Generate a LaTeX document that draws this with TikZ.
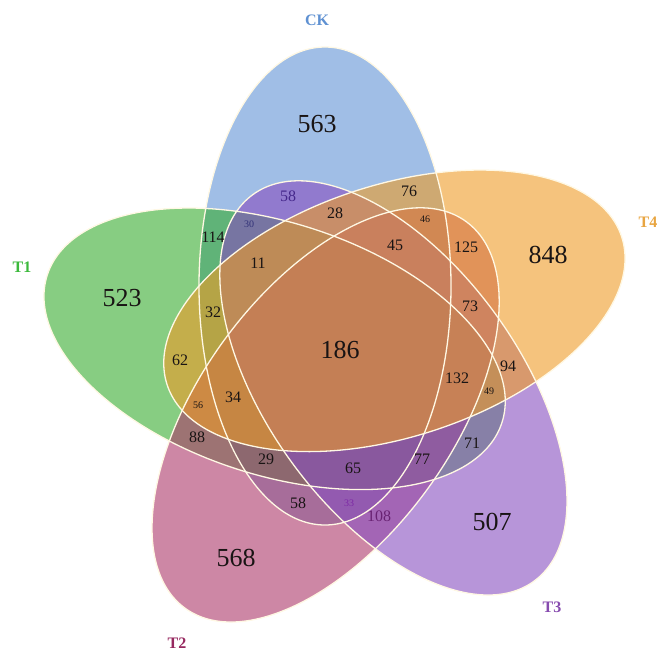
\documentclass[tikz,border=0pt]{standalone}
\usepackage{fontspec}
\setmainfont{Liberation Serif}
\definecolor{ckfill}{RGB}{97,147,213}
\definecolor{tonefill}{RGB}{55,172,47}
\definecolor{ttwofill}{RGB}{172,55,105}
\definecolor{tthreefill}{RGB}{135,78,192}
\definecolor{tfourfill}{RGB}{238,155,38}
\definecolor{rimwhite}{RGB}{255,248,228}
\definecolor{cktext}{RGB}{95,145,210}
\definecolor{tonetext}{RGB}{60,185,60}
\definecolor{ttwotext}{RGB}{150,40,95}
\definecolor{tthreetext}{RGB}{135,75,175}
\definecolor{tfourtext}{RGB}{232,165,65}
\definecolor{numdark}{RGB}{25,20,20}
\definecolor{numnavy}{RGB}{70,40,140}
\definecolor{numblue}{RGB}{50,50,120}
\definecolor{numviolet}{RGB}{125,40,165}
\definecolor{numplum}{RGB}{105,35,115}
\begin{document}
\begin{tikzpicture}[x=1pt, y=-1pt,
    setfill/.style={fill=#1, fill opacity=0.6},
    rim/.style={draw=rimwhite, line width=1.3pt},
    numbig/.style={font=\fontsize{26}{28}\selectfont, text=#1},
    numbig/.default=numdark,
    nummid/.style={font=\fontsize{16}{18}\selectfont, text=#1},
    nummid/.default=numdark,
    numsmall/.style={font=\fontsize{10}{11}\selectfont, text=#1},
    numsmall/.default=numdark,
    setname/.style={font=\bfseries\fontsize{16}{18}\selectfont, text=#1},
]
\useasboundingbox (0,0) rectangle (663,657);
\coordinate (cCK) at (325,286);
\coordinate (cT1) at (274.6,348.8);
\coordinate (cT2) at (325.6,414.9);
\coordinate (cT3) at (393.4,387.9);
\coordinate (cT4) at (394.4,310.8);

\fill[setfill=ckfill] (cCK) ellipse [x radius=126, y radius=239];
\fill[setfill=tonefill, rotate around={72:(cT1)}] (cT1) ellipse [x radius=126, y radius=239];
\fill[setfill=ttwofill, rotate around={144:(cT2)}] (cT2) ellipse [x radius=126, y radius=239];
\fill[setfill=tthreefill, rotate around={-144:(cT3)}] (cT3) ellipse [x radius=126, y radius=239];
\fill[setfill=tfourfill, rotate around={-72:(cT4)}] (cT4) ellipse [x radius=126, y radius=239];

\draw[rim] (cCK) ellipse [x radius=126, y radius=239];
\draw[rim, rotate around={72:(cT1)}] (cT1) ellipse [x radius=126, y radius=239];
\draw[rim, rotate around={144:(cT2)}] (cT2) ellipse [x radius=126, y radius=239];
\draw[rim, rotate around={-144:(cT3)}] (cT3) ellipse [x radius=126, y radius=239];
\draw[rim, rotate around={-72:(cT4)}] (cT4) ellipse [x radius=126, y radius=239];

% set names
\node[setname=cktext] (nCK) at (317,20) {CK};
\node[setname=tonetext] (nT1) at (22,267) {T1};
\node[setname=ttwotext] (nT2) at (177,643) {T2};
\node[setname=tthreetext] (nT3) at (552,607) {T3};
\node[setname=tfourtext] (nT4) at (648,222) {T4};

% counts
\node[numbig] (aCK) at (317,124) {563};
\node[numbig] (aT1) at (122,298) {523};
\node[numbig] (aT4) at (548,255) {848};
\node[numbig] (aT3) at (492,522) {507};
\node[numbig] (aT2) at (236,558) {568};
\node[numbig] (aAll) at (340,350) {186};

\node[nummid=numnavy] (r58a) at (288,196) {58};
\node[nummid] (r76) at (409,191) {76};
\node[nummid] (r114) at (213,237) {114};
\node[numsmall=numblue] (r30) at (249,224) {30};
\node[nummid] (r28) at (335,213) {28};
\node[numsmall] (r46) at (425,219) {46};
\node[nummid] (r125) at (466,247) {125};
\node[nummid] (r11) at (258,263) {11};
\node[nummid] (r45) at (395,245) {45};
\node[nummid] (r32) at (213,312) {32};
\node[nummid] (r73) at (470,306) {73};
\node[nummid] (r62) at (180,360) {62};
\node[nummid] (r132) at (457,378) {132};
\node[nummid] (r94) at (508,366) {94};
\node[numsmall] (r49) at (489,391) {49};
\node[numsmall] (r56) at (198,405) {56};
\node[nummid] (r34) at (233,397) {34};
\node[nummid] (r88) at (197,437) {88};
\node[nummid] (r29) at (266,459) {29};
\node[nummid] (r65) at (353,468) {65};
\node[nummid] (r77) at (422,459) {77};
\node[nummid] (r71) at (472,443) {71};
\node[nummid] (r58b) at (298,503) {58};
\node[numsmall=numviolet] (r33) at (349,503) {33};
\node[nummid=numplum] (r108) at (379,516) {108};
\end{tikzpicture}
\end{document}
